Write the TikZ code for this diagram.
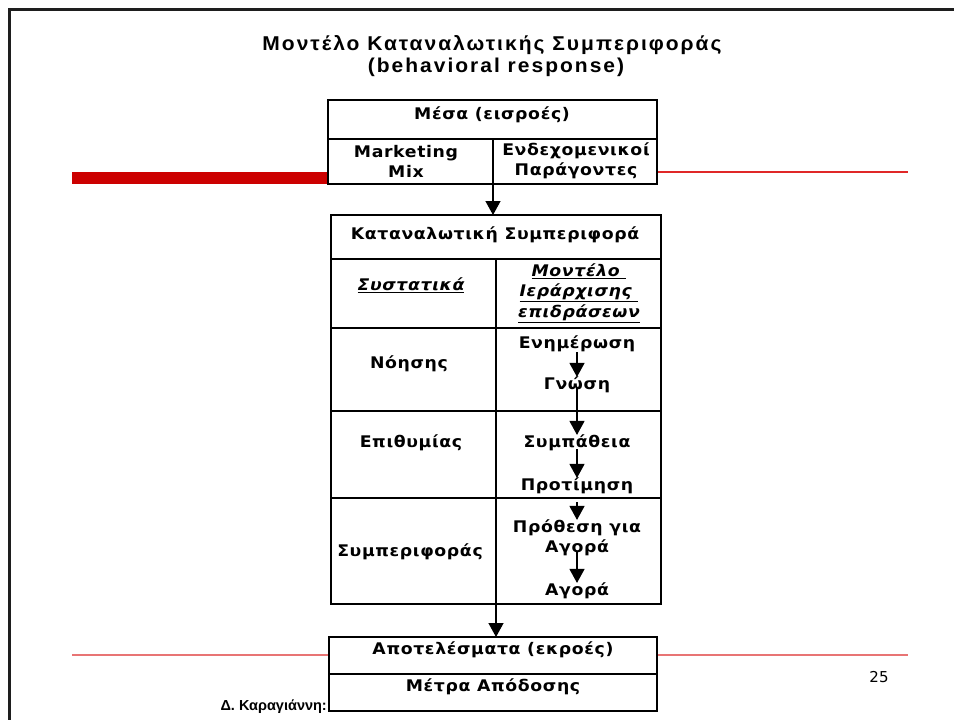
\documentclass[tikz,border=0pt]{standalone}
\usepackage{fontspec}
\usetikzlibrary{arrows.meta}
\setmainfont{DejaVu Sans}
\newfontfamily\boxfont[LetterSpace=4,FakeStretch=1.08]{DejaVu Sans}
\newfontfamily\titlefont[LetterSpace=10,FakeStretch=1.05]{Liberation Sans}
\newfontfamily\footfont{Liberation Sans}
\definecolor{barred}{HTML}{CC0000}
\definecolor{linered}{HTML}{E02828}
\definecolor{salmon}{HTML}{E87474}
\definecolor{framec}{HTML}{1E1E1E}
\tikzset{
  cell/.style={draw=black, line width=1.3pt, fill=white, inner sep=0pt, outer sep=0pt},
  txt/.style={inner sep=0pt, outer sep=0pt, align=center, font=\boxfont\bfseries\fontsize{16}{20}\selectfont},
  itx/.style={txt, font=\boxfont\bfseries\itshape\fontsize{16}{20.5}\selectfont},
  arr/.style={line width=1.3pt, -{Triangle[width=15pt,length=14pt]}},
  ttl/.style={inner sep=0pt, font=\titlefont\bfseries\fontsize{20}{22}\selectfont}
}
\begin{document}
\begin{tikzpicture}[x=1pt,y=-1pt]
\useasboundingbox (0,0) rectangle (954,720);
% frame
\draw[framec, line width=3pt] (9,720) -- (9,9) -- (954,9);
% decorative lines
\fill[barred] (72,172) rectangle (330,184);
\draw[linered, line width=1.5pt] (655,172) -- (908,172);
\draw[salmon, line width=1.6pt] (72,655) -- (908,655);
% title
\node[ttl] (title1) at (492,45) {Μοντέλο Καταναλωτικής Συμπεριφοράς};
\node[ttl] (title2) at (496,67) {(behavioral response)};
% box 1
\node[cell, minimum width=329pt, minimum height=39pt] (mesa) at (492.5,119.5) {};
\node[cell, minimum width=165pt, minimum height=45pt] (mm) at (410.5,161.5) {};
\node[cell, minimum width=164pt, minimum height=45pt] (ep) at (575,161.5) {};
\node[txt] (tmesa) at (492,115) {Μέσα (εισροές)};
\node[txt] (tmm) at (406,161) {Marketing\\Mix};
\node[txt] (tep) at (576,161) {Ενδεχομενικοί\\Παράγοντες};
% box 2
\node[cell, minimum width=330pt, minimum height=44pt] (kt) at (496,237) {};
\node[cell, minimum width=165pt, minimum height=69pt] (r1l) at (413.5,293.5) {};
\node[cell, minimum width=165pt, minimum height=69pt] (r1r) at (578.5,293.5) {};
\node[cell, minimum width=165pt, minimum height=83pt] (r2l) at (413.5,369.5) {};
\node[cell, minimum width=165pt, minimum height=83pt] (r2r) at (578.5,369.5) {};
\node[cell, minimum width=165pt, minimum height=87pt] (r3l) at (413.5,454.5) {};
\node[cell, minimum width=165pt, minimum height=87pt] (r3r) at (578.5,454.5) {};
\node[cell, minimum width=165pt, minimum height=106pt] (r4l) at (413.5,551) {};
\node[cell, minimum width=165pt, minimum height=106pt] (r4r) at (578.5,551) {};
\node[txt] (tkt) at (495,235) {Καταναλωτική Συμπεριφορά};
\node[itx] (tsys) at (411,285) {\underline{Συστατικά}};
\node[itx] (tmod) at (579,293) {\underline{Μοντέλο }\\\underline{Ιεράρχισης }\\\underline{επιδράσεων}};
\node[txt] (tno) at (409,364) {Νόησης};
\node[txt] (tepi) at (411,443) {Επιθυμίας};
\node[txt] (tsym) at (410,552) {Συμπεριφοράς};
\node[txt] (en) at (577,344) {Ενημέρωση};
\node[txt] (gn) at (577,385) {Γνώση};
\node[txt] (sy) at (577,443) {Συμπάθεια};
\node[txt] (pr) at (577,486) {Προτίμηση};
\node[txt] (pg) at (577,538) {Πρόθεση για\\Αγορά};
\node[txt] (ag) at (577,591) {Αγορά};
% box 3
\node[cell, minimum width=328pt, minimum height=37pt] (ap) at (493,655.5) {};
\node[cell, minimum width=328pt, minimum height=37pt] (me) at (493,692.5) {};
\node[txt] (tap) at (493,650) {Αποτελέσματα (εκροές)};
\node[txt] (tme) at (493,687) {Μέτρα Απόδοσης};
% footer
\node[inner sep=0pt, anchor=east, font=\footfont\bfseries\fontsize{14.5}{16}\selectfont] (foot) at (327,707) {Δ. Καραγιάννη:};
\node[inner sep=0pt, font=\fontsize{15}{18}\selectfont] (page) at (879,677) {25};
% connectors
\draw[arr] (mm.south east) -- (mm.south east |- kt.north);
\draw[arr] (r4l.south east) -- (r4l.south east |- ap.north);
\draw[arr] (en.south) -- (gn.north);
\draw[arr, shorten <=-6pt] (gn.south) -- (sy.north);
\draw[arr, shorten <=-2pt] (sy.south) -- (pr.north);
\draw[arr, shorten <=8pt] (pr.south) -- (pg.north);
\draw[arr, shorten <=-4pt] (pg.south) -- (ag.north);
\end{tikzpicture}
\end{document}
